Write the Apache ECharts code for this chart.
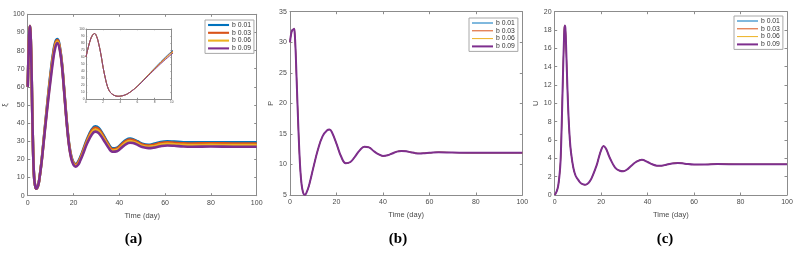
<!DOCTYPE html>
<html><head><meta charset="utf-8">
<script src="https://cdn.jsdelivr.net/npm/echarts@6/dist/echarts.min.js"></script>
<style>html,body{margin:0;padding:0;background:#fff}#c{width:811px;height:257px}</style>
</head><body><div id="c"></div>
<script>
// ---- data ----
const seriesNames = ['b 0.01', 'b 0.03', 'b 0.06', 'b 0.09'];
const colors = ['#0072BD', '#D95319', '#EDB120', '#7E2F8E'];
const xTicks = [0, 20, 40, 60, 80, 100];

// panel (a): xi
const timeA = [0,0.25,0.5,0.75,1,1.25,1.5,1.75,2,2.25,2.5,2.75,3,3.25,3.5,3.75,4,4.5,5,6,7,8,9,10,11,12,13,14,15,16,17,18,19,20,21,22,23,24,26,28,29.5,31,33,35,37,39,41,43,44.7,46,48,50,52.7,55,58,61,64,68,72,80,90,100];
const xiB001 = [60,73,84,91,93.5,89,78,63,45,30,18,11,7.5,5.5,4.3,3.9,4.1,5.6,8.6,18.5,31.2,44,56.5,68,77.8,84.5,86.3,82.1,72.2,57.1,41.6,29.2,21.8,18.4,17.5,18.7,21.4,24.6,31.5,36.6,38.3,37.4,33.6,29.2,26.1,26.5,28.7,30.8,31.5,31.2,30,28.7,28.1,28.6,29.6,30,29.8,29.5,29.4,29.5,29.4,29.4];
const xiB003 = [60,73,84,91,93.5,89,78,63,45,30,18,11,7.5,5.5,4.3,3.9,4.1,5.5,8.6,18.4,30.9,43.5,55.8,67,76.9,83.8,85.8,81.7,71.9,56.8,41.3,28.9,21.5,18.1,17.1,18.3,20.9,24.1,30.9,35.9,37.6,36.7,33,28.7,25.6,26,28.2,30.2,30.9,30.7,29.5,28.2,27.6,28.1,29,29.4,29.2,28.9,28.8,28.9,28.8,28.8];
const xiB006 = [60,73,84,91,93.5,89,78,63,45,30,18,11,7.5,5.5,4.3,3.9,4.1,5.5,8.5,18.2,30.5,42.8,54.6,65.5,75.4,82.6,85,81.1,71.5,56.4,40.9,28.5,21,17.5,16.6,17.6,20.2,23.3,29.9,34.9,36.4,35.6,32,27.8,24.9,25.3,27.3,29.4,30.1,29.8,28.8,27.5,26.9,27.3,28.2,28.6,28.4,28,27.9,28,27.9,27.9];
const xiB009 = [60,73,84,91,93.5,89,78,63,45,30,18,11,7.5,5.5,4.3,3.9,4.1,5.5,8.5,18,30,42,53.5,64,74,81.5,84.2,80.5,71,56,40.5,28,20.5,17,16,17,19.5,22.5,29,33.8,35.3,34.5,31,27,24.2,24.5,26.5,28.5,29.2,29,28,26.8,26.2,26.5,27.3,27.7,27.5,27.1,27,27.1,27,27];
const yTicksA = [0,10,20,30,40,50,60,70,80,90,100];
const insetXTicks = [0,2,4,6,8,10];

// panel (b): P (all four runs coincide)
const timeB = [0,0.5,1,1.5,1.75,2,2.25,2.5,2.75,3,3.5,4,4.5,5,5.5,6,6.5,7,8,9,10,12,14,16,17,18,20,22,24,26,28,30,32,34,36,38,40,42,44,46,48,50,52,54,56,58,60,64,70,80,90,100];
const pVals = [30,31.4,32,32.1,32.2,31.6,30,27.8,25,22.3,17,12.3,8.8,6.7,5.6,5.1,5.05,5.3,6.3,7.8,9.4,12.4,14.6,15.6,15.7,15.3,13.4,11.3,10.2,10.4,11.3,12.3,12.9,12.8,12.2,11.7,11.4,11.5,11.8,12.1,12.2,12.15,12,11.85,11.8,11.85,11.9,12,11.95,11.9,11.9,11.9];
const yTicksB = [5,10,15,20,25,30,35];

// panel (c): U (all four runs coincide)
const timeC = [0,0.5,1,1.5,2,2.5,3,3.5,4,4.3,4.6,5,5.5,6,6.5,7,8,9,10,11,12,13,14,15,16,18,19,20,21,22,23,24,26,28,29.5,31,33,35,37.5,40,42,44,46,48,50,53,56,60,65,70,80,90,100];
const uVals = [0,0.2,0.5,1,2,3.6,7.5,12.5,17,18.5,18.2,15.5,11.5,8.3,6.1,4.7,3,2.1,1.7,1.35,1.18,1.12,1.2,1.45,1.9,3.2,4.1,4.9,5.35,5.1,4.5,3.9,3,2.65,2.6,2.75,3.2,3.6,3.85,3.6,3.35,3.2,3.2,3.3,3.42,3.5,3.42,3.32,3.33,3.38,3.35,3.35,3.35];
const yTicksC = [0,2,4,6,8,10,12,14,16,18,20];

// ---- build ----
const zip = (t, v) => t.map((x, i) => [x, v[i]]);
const FONT = 'Liberation Sans';
const axisCol = '#8c8c8c', labCol = '#4a4a4a';

function mkAxes(gi, ticksX, ticksY, yName, yGap, fs, tickLen, showXName) {
  const xMin = ticksX[0], xMax = ticksX[ticksX.length-1], xInt = ticksX[1]-ticksX[0];
  const yMin = ticksY[0], yMax = ticksY[ticksY.length-1], yInt = ticksY[1]-ticksY[0];
  const line = {show:true, onZero:false, lineStyle:{color:axisCol, width:1}};
  const tick = {show:true, inside:true, length:tickLen, lineStyle:{color:axisCol}};
  const xs = [
    {type:'value', gridIndex:gi, min:xMin, max:xMax, interval:xInt, position:'bottom',
     axisLine:line, axisTick:tick, splitLine:{show:false},
     axisLabel:{color:labCol, fontSize:fs, fontFamily:FONT, margin:fs*0.5},
     name: showXName ? 'Time (day)' : '', nameLocation:'middle', nameGap:16,
     nameTextStyle:{color:labCol, fontSize:7.5, fontFamily:FONT}},
    {type:'value', gridIndex:gi, min:xMin, max:xMax, interval:xInt, position:'top',
     axisLine:line, axisTick:tick, splitLine:{show:false}, axisLabel:{show:false}}
  ];
  const ys = [
    {type:'value', gridIndex:gi, min:yMin, max:yMax, interval:yInt, position:'left',
     axisLine:line, axisTick:tick, splitLine:{show:false},
     axisLabel:{color:labCol, fontSize:fs, fontFamily:FONT, margin:fs*0.45},
     name:yName, nameLocation:'middle', nameGap:yGap, nameRotate:90,
     nameTextStyle:{color:labCol, fontSize:7.5, fontFamily:FONT}},
    {type:'value', gridIndex:gi, min:yMin, max:yMax, interval:yInt, position:'right',
     axisLine:line, axisTick:tick, splitLine:{show:false}, axisLabel:{show:false}}
  ];
  return {xs, ys};
}

const axA = mkAxes(0, xTicks, yTicksA, 'ξ', 11, 7, 2.5, true);
const axI = mkAxes(1, insetXTicks, yTicksA, '', 0, 3.2, 1.2, false);
const axB = mkAxes(2, xTicks, yTicksB, 'P', 11, 7, 2.5, true);
const axC = mkAxes(3, xTicks, yTicksC, 'U', 12, 7, 2.5, true);
const xAxis = [...axA.xs, ...axI.xs, ...axB.xs, ...axC.xs];
const yAxis = [...axA.ys, ...axI.ys, ...axB.ys, ...axC.ys];

const aData = [xiB001, xiB003, xiB006, xiB009];
const series = [];
function addLine(prefix, idx, axisIdx, data, width) {
  series.push({type:'line', name: prefix + '|' + seriesNames[idx], xAxisIndex:axisIdx, yAxisIndex:axisIdx,
    data, smooth:0.4, symbol:'none', showSymbol:false, clip:true,
    lineStyle:{color:colors[idx], width}, itemStyle:{color:colors[idx]}, z:2+idx});
}
aData.forEach((arr, i) => addLine('a', i, 0, zip(timeA, arr), 2.6));
aData.forEach((arr, i) => addLine('i', i, 2, zip(timeA, arr), 0.9));
[0,1,2,3].forEach(i => addLine('b', i, 4, zip(timeB, pVals), i === 3 ? 2 : 1));
[0,1,2,3].forEach(i => addLine('c', i, 6, zip(timeC, uVals), i === 3 ? 2 : 1));

function mkLegend(prefix, left, top, widths) {
  return {
    data: seriesNames.map((n, i) => ({name: prefix + '|' + n, lineStyle:{width:widths[i]}})),
    formatter: s => s.split('|')[1],
    orient:'vertical', left, top, itemWidth:21, itemHeight:7.8, itemGap:0.8,
    itemStyle:{opacity:0},
    padding:[1.5, 3, 1.5, 2], backgroundColor:'#fff', borderColor:'#a8a8a8', borderWidth:1,
    textStyle:{fontSize:6.8, fontFamily:FONT, color:'#333', padding:[0,0,0,-2]}, selectedMode:false
  };
}

const option = {
  animation:false,
  backgroundColor:'#fff',
  grid:[
    {left:27.7, top:14.3, width:229, height:181.4, show:true, backgroundColor:'#fff', borderWidth:0},
    {left:86, top:29, width:85.7, height:70, show:true, backgroundColor:'#fff', borderWidth:0},
    {left:290, top:11.7, width:232.3, height:183.3, show:true, backgroundColor:'#fff', borderWidth:0},
    {left:554.7, top:11.7, width:232.3, height:183.3, show:true, backgroundColor:'#fff', borderWidth:0}
  ],
  xAxis, yAxis, series,
  legend:[
    mkLegend('a', 205, 20, [2.1,2.1,2.1,2.1]),
    mkLegend('b', 469, 18, [1,1,1,2]),
    mkLegend('c', 734, 16, [1,1,1,2])
  ],
  graphic:[
    {type:'text', x:133.5, y:239.5, style:{text:'(a)', font:'bold 15px "Liberation Serif"', fill:'#000', textAlign:'center', textVerticalAlign:'middle'}},
    {type:'text', x:398, y:239.5, style:{text:'(b)', font:'bold 15px "Liberation Serif"', fill:'#000', textAlign:'center', textVerticalAlign:'middle'}},
    {type:'text', x:665, y:239.5, style:{text:'(c)', font:'bold 15px "Liberation Serif"', fill:'#000', textAlign:'center', textVerticalAlign:'middle'}}
  ]
};
const chart = echarts.init(document.getElementById('c'), null, {renderer:'canvas'});
chart.setOption(option);
</script></body></html>
